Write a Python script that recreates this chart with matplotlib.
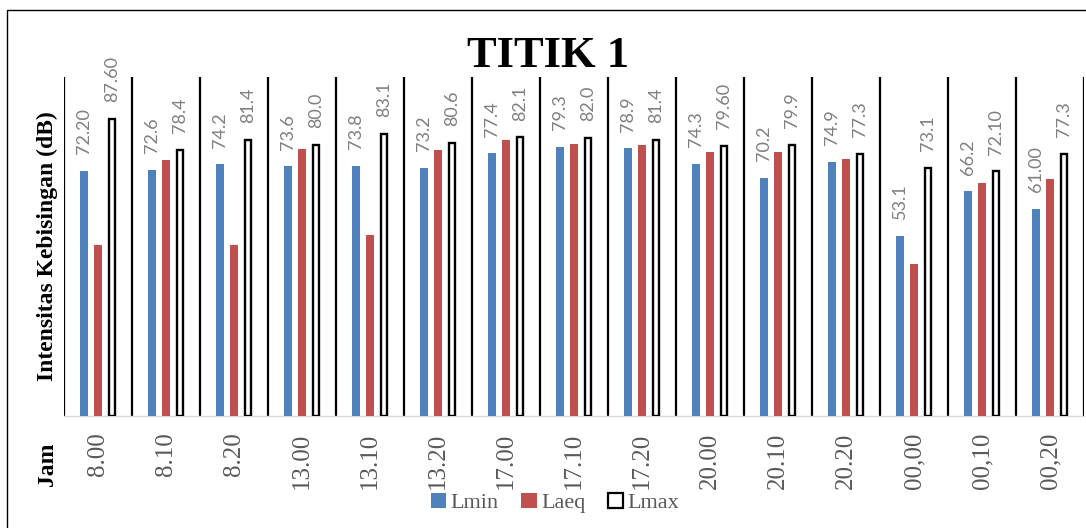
import numpy as np
import matplotlib
matplotlib.use("Agg")
import matplotlib.pyplot as plt
import matplotlib.patches as patches

# ==========================================
# DATA
# ==========================================
jam = ["8.00", "8.10", "8.20", "13.00", "13.10", "13.20", "17.00", "17.10",
       "17.20", "20.00", "20.10", "20.20", "00,00", "00,10", "00,20"]

lmin = [72.20, 72.6, 74.2, 73.6, 73.8, 73.2, 77.4, 79.3, 78.9, 74.3, 70.2, 74.9, 53.1, 66.2, 61.00]
laeq = [50.3, 75.4, 50.3, 78.6, 53.3, 78.5, 81.2, 80.2, 80.0, 77.9, 77.9, 75.7, 44.9, 68.7, 69.9]
lmax = [87.60, 78.4, 81.4, 80.0, 83.1, 80.6, 82.1, 82.0, 81.4, 79.60, 79.9, 77.3, 73.1, 72.10, 77.3]

lmin_labels = ["72.20", "72.6", "74.2", "73.6", "73.8", "73.2", "77.4", "79.3",
               "78.9", "74.3", "70.2", "74.9", "53.1", "66.2", "61.00"]
lmax_labels = ["87.60", "78.4", "81.4", "80.0", "83.1", "80.6", "82.1", "82.0",
               "81.4", "79.60", "79.9", "77.3", "73.1", "72.10", "77.3"]

# ==========================================
# STYLE
# ==========================================
SERIF = ["Liberation Serif", "DejaVu Serif"]
SANS = ["Lato", "Liberation Sans", "DejaVu Sans"]
C_BLUE = "#4f81bd"
C_RED = "#c0504d"
C_LABEL = "#7f7f7f"
C_TICK = "#595959"

W, H = 1086, 528
fig = plt.figure(figsize=(W / 100, H / 100), dpi=100)
ax = fig.add_axes([64 / W, 1 - 416 / H, (1084 - 64) / W, (416 - 76.7) / H])

x = np.arange(len(jam))
off = 0.206

ax.bar(x - off, lmin, width=0.11, color=C_BLUE, zorder=3)
ax.bar(x, laeq, width=0.11, color=C_RED, zorder=3)
ax.bar(x + off, lmax, width=0.095, facecolor="white", edgecolor="black", linewidth=1.7, zorder=3)

# data labels (Lmin & Lmax only)
for xi, v, s in zip(x - off, lmin, lmin_labels):
    ax.annotate(s, (xi, v), xytext=(0, 12), textcoords="offset points", rotation=90,
                ha="center", va="bottom", fontsize=13, color=C_LABEL, family=SANS)
for xi, v, s in zip(x + off, lmax, lmax_labels):
    ax.annotate(s, (xi, v), xytext=(0, 12), textcoords="offset points", rotation=90,
                ha="center", va="bottom", fontsize=13, color=C_LABEL, family=SANS)

# group dividers
ax.vlines(np.arange(len(jam) + 1) - 0.5, 0, 100, color="black", linewidth=1.6, zorder=2)

ax.set_xlim(-0.5, len(jam) - 0.5)
ax.set_ylim(0, 100)
for side in ["top", "right", "left"]:
    ax.spines[side].set_visible(False)
ax.spines["bottom"].set_color("#d9d9d9")
ax.spines["bottom"].set_linewidth(1.0)
ax.set_yticks([])
ax.set_xticks(x)
ax.set_xticklabels(jam, rotation=90, fontsize=18, color=C_TICK, family=SERIF)
ax.tick_params(axis="x", length=0, pad=12)

# titles / axis labels
fig.text(548 / W, 1 - 56 / H, "TITIK 1", ha="center", va="center",
         fontsize=32, fontweight="bold", family=SERIF)
fig.text(47 / W, 1 - 246 / H, "Intensitas Kebisingan (dB)", ha="center", va="center",
         rotation=90, fontsize=17, fontweight="bold", family=SERIF)
fig.text(47 / W, 1 - 464 / H, "Jam", ha="center", va="center",
         rotation=90, fontsize=17, fontweight="bold", family=SERIF)

# legend
handles = [patches.Patch(facecolor=C_BLUE, edgecolor="none"),
           patches.Patch(facecolor=C_RED, edgecolor="none"),
           patches.Patch(facecolor="white", edgecolor="black", linewidth=1.6)]
fig.legend(handles, ["Lmin", "Laeq", "Lmax"], loc="center", ncol=3,
           bbox_to_anchor=(555 / W, 1 - 503 / H), frameon=False,
           prop={"family": SERIF, "size": 16}, labelcolor=C_TICK,
           handlelength=0.7, handleheight=0.7, handletextpad=0.2, columnspacing=1.0)

# outer chart frame (runs off right and bottom edge)
frame = patches.Rectangle((7 / W, -0.1), 2, 1.1 - 10 / H, transform=fig.transFigure,
                          fill=False, edgecolor="black", linewidth=1.0)
fig.patches.append(frame)

plt.savefig("out.png", dpi=100)
